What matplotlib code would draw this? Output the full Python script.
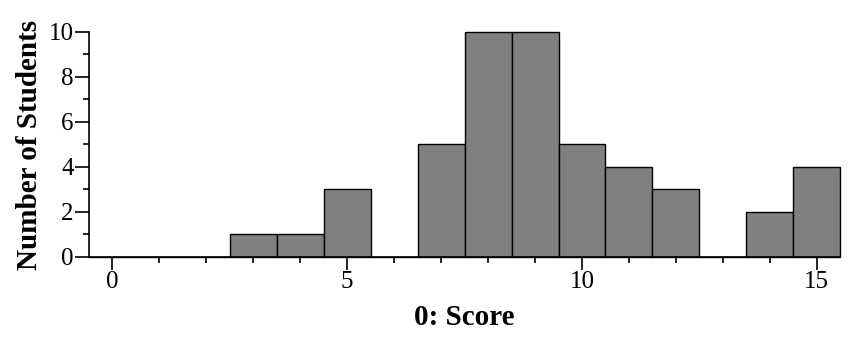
import matplotlib
matplotlib.use("Agg")
import matplotlib.pyplot as plt
from matplotlib.ticker import MultipleLocator

scores = list(range(16))
counts = [0, 0, 0, 1, 1, 3, 0, 5, 10, 10, 5, 4, 3, 0, 2, 4]

plt.rcParams['font.family'] = ['Liberation Serif', 'DejaVu Serif']

fig = plt.figure(figsize=(8.6, 3.44), dpi=100)
ax = fig.add_axes([0.1035, 0.253, 0.8735, 0.654])

ax.bar(scores, counts, width=1.0, color='#808080', edgecolor='black',
       linewidth=1.0, clip_on=False)

ax.set_xlim(-0.5, 15.5)
ax.set_ylim(0, 10)
ax.spines['top'].set_visible(False)
ax.spines['right'].set_visible(False)
ax.spines['left'].set_linewidth(1.2)
ax.spines['bottom'].set_linewidth(1.2)

ax.xaxis.set_major_locator(MultipleLocator(5))
ax.xaxis.set_minor_locator(MultipleLocator(1))
ax.yaxis.set_major_locator(MultipleLocator(2))
ax.yaxis.set_minor_locator(MultipleLocator(1))
ax.tick_params(axis='x', which='major', length=9, width=1.2, labelsize=18, pad=1)
ax.tick_params(axis='x', which='minor', length=4, width=1.2)
ax.tick_params(axis='y', which='major', length=10, width=1.2, labelsize=18, pad=1)
ax.tick_params(axis='y', which='minor', length=4, width=1.2)

ax.set_xlabel("0: Score", fontsize=21, fontweight='bold', labelpad=8)
ax.set_ylabel("Number of Students", fontsize=21, fontweight='bold', labelpad=4)

fig.savefig("out.png", dpi=100)
